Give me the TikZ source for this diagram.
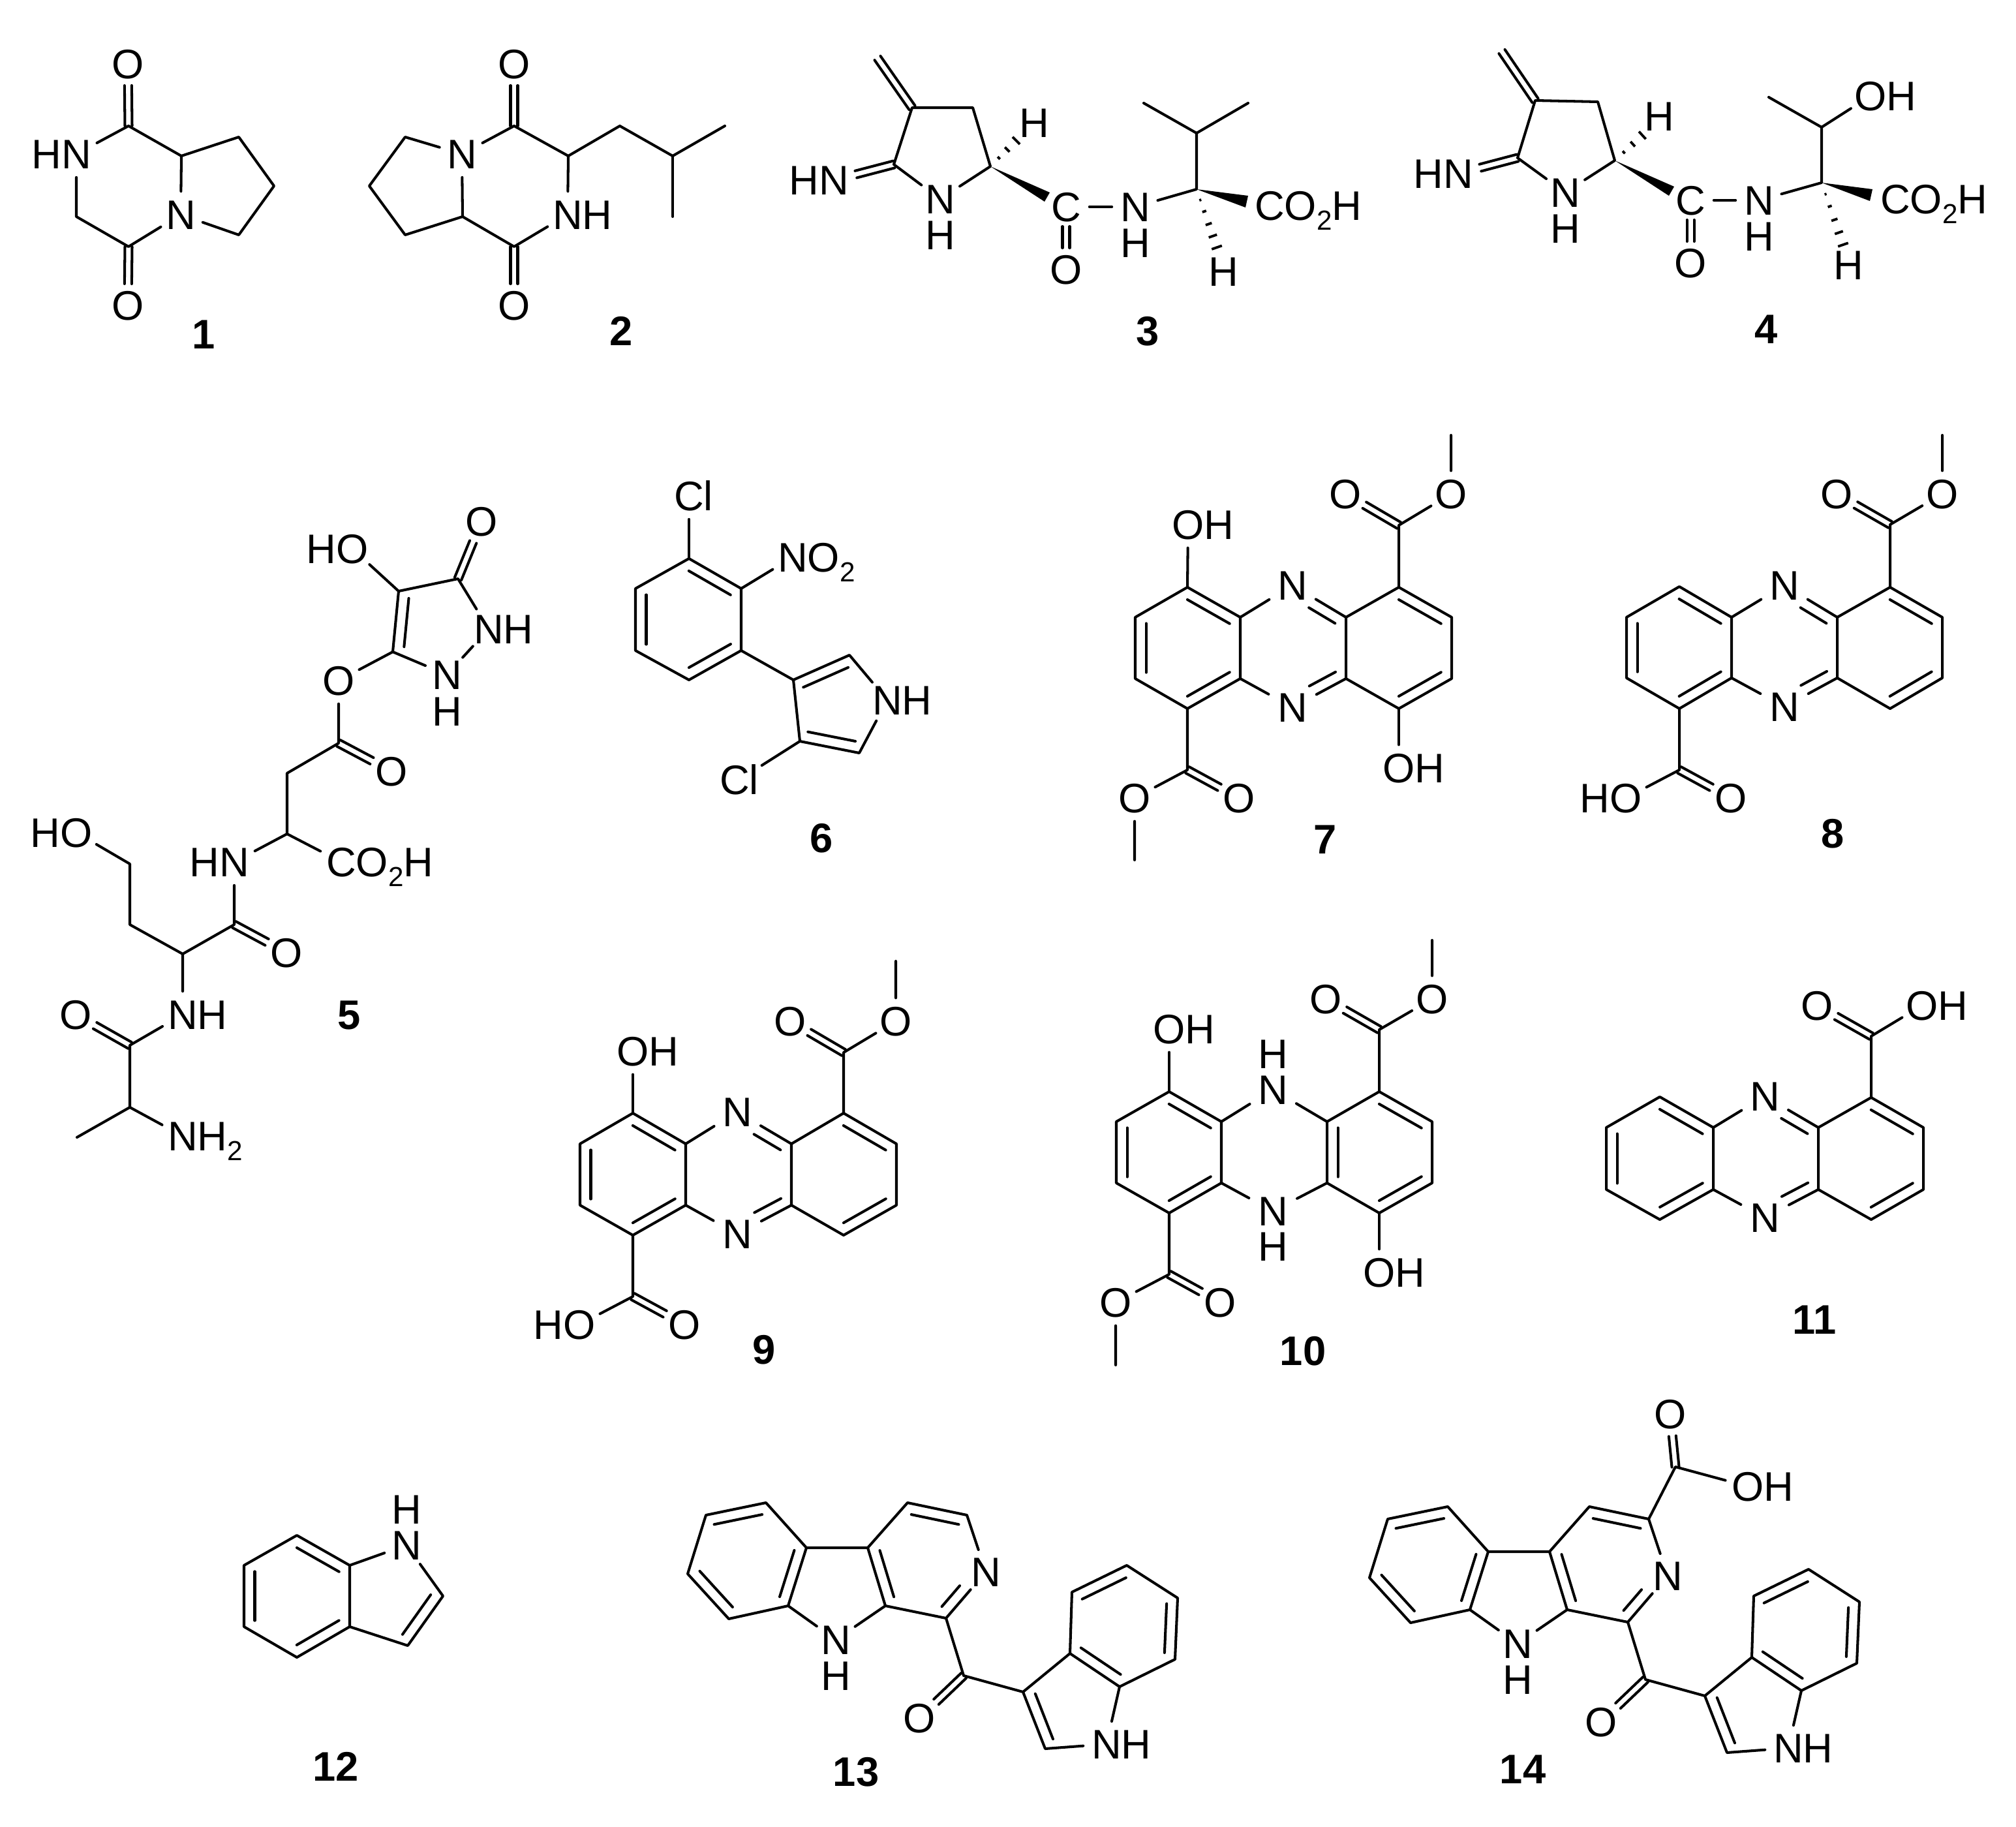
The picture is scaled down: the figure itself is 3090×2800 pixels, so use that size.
\documentclass[tikz,border=0pt]{standalone}
\usepackage{fontspec}
\setmainfont{Liberation Sans}
\usetikzlibrary{calc}
\tikzset{
  bond/.style={line width=1.15pt,line cap=round,line join=round,black},
  hashline/.style={line width=1.1pt,black},
  atom/.style={circle,inner sep=.6pt,text height=12.9pt,text depth=0pt,font=\fontsize{18}{20}\selectfont,text=black},
  atomn/.style={atom,inner sep=1.8pt},
  atomo/.style={atom,inner sep=.3pt},
  cmpd/.style={inner sep=0pt,font=\fontsize{18}{20}\selectfont\bfseries,text=black}
}
\newcommand{\subtwo}{\raisebox{-4.2pt}{\fontsize{12}{14}\selectfont 2}}
\newcommand{\pts}[1]{\foreach \pa/\pb/\pc in {#1}{\coordinate (\pa) at (\pb,\pc);}}
\newcommand{\inrf}[4]{\draw[bond] ($(#1)!#3!(#2)!.165cm!-90:(#2)$) -- ($(#2)!#4!(#1)!.165cm!90:(#1)$);}
\newcommand{\inr}[2]{\inrf{#1}{#2}{.1}{.1}}
\newcommand{\dbx}[4]{%
  \draw[bond] ($(#1)!#3!(#2)!.055cm!90:(#2)$) -- ($(#2)!#4!(#1)!.055cm!-90:(#1)$);
  \draw[bond] ($(#1)!#3!(#2)!.055cm!-90:(#2)$) -- ($(#2)!#4!(#1)!.055cm!90:(#1)$);}
\newcommand{\hashb}[3]{\foreach \ha in {#3}{%
  \pgfmathsetmacro\hw{\ha*0.085}
  \draw[hashline] ($(#1)!\ha!(#2)!\hw cm!90:(#2)$) -- ($(#1)!\ha!(#2)!\hw cm!-90:(#2)$);}}
\newcommand{\phrings}[1]{%
  \draw[bond] (#1a)--(#1f)--(#1e)--(#1d)--(#1c)--(#1b)--cycle;
  \draw[bond] (#1f)--(#1nt)--(#1g)--(#1h)--(#1nb)--(#1e);
  \draw[bond] (#1g)--(#1i)--(#1j)--(#1k)--(#1l)--(#1h);
  \inr{#1a}{#1f}\inr{#1e}{#1d}\inr{#1c}{#1b}\inr{#1i}{#1j}\inr{#1k}{#1l}}
\begin{document}
\begin{tikzpicture}[x=.01cm,y=-.01cm]
\useasboundingbox[fill=white] (0,0) rectangle (3090,2800);

%% 1
\node[atomo] (m1o) at (196,98) {O};
\node[atom] (m1na) at (117,236) {\llap{H}N};
\node[atom] (m1nb) at (277,329) {N};
\node[atomo] (m1p) at (196,468) {O};
\pts{m1c/197/193,m1j/278/239,m1h/117/332,m1k/197/378,m1r/366/210,m1s/420/285,m1t/366/360}
\draw[bond] (m1na)--(m1c)--(m1j)--(m1nb)--(m1k)--(m1h)--(m1na);
\draw[bond] (m1j)--(m1r)--(m1s)--(m1t)--(m1nb);
\dbx{m1c}{m1o}{0cm}{.33cm}\dbx{m1k}{m1p}{0cm}{.33cm}
\node[cmpd] (lab1) at (312,513) {1};

%% 2
\node[atomo] (m2o) at (788,98) {O};
\node[atom] (m2na) at (708,236) {N};
\node[atom] (m2nb) at (870,329) {N\rlap{H}};
\node[atomo] (m2p) at (788,468) {O};
\pts{m2c/788/193,m2j/871/239,m2h/709/332,m2k/788/378,m2r/621/210,m2s/566/285,m2t/621/360,m2u/950/193,m2v/1031/239,m2w/1111/193,m2x/1031/332}
\draw[bond] (m2na)--(m2c)--(m2j)--(m2nb)--(m2k)--(m2h)--(m2na);
\draw[bond] (m2na)--(m2r)--(m2s)--(m2t)--(m2h);
\draw[bond] (m2j)--(m2u)--(m2v)--(m2w);
\draw[bond] (m2v)--(m2x);
\dbx{m2c}{m2o}{0cm}{.33cm}\dbx{m2k}{m2p}{0cm}{.33cm}
\node[cmpd] (lab2) at (952,507) {2};

%% 3
\node[atom] (m3hn) at (1278,276) {\llap{H}N};
\node[atom] (m3n) at (1441,305) {N};
\node[atom] (m3nh) at (1441,360) {H};
\node[atom] (m3h) at (1585,188) {H};
\node[atom] (m3cl) at (1634,317) {C};
\node[atomo] (m3o) at (1634,413) {O};
\node[atom] (m3nb) at (1740,317) {N};
\node[atom] (m3nbh) at (1740,372) {H};
\node[atom] (m3co) at (1946,315) {C\rlap{O\subtwo H}};
\node[atom] (m3hb) at (1875,416) {H};
\pts{m3a/1398/165,m3b/1491/165,m3c/1518/255,m3d/1370/252,m3e/1345/89,m3f/1834/290,m3g/1834/204,m3i/1753/158,m3j/1913/158,m3k/1609/295,m3l/1601/309,m3m/1913/300,m3p/1909/318,m3q/1561/212,m3r/1866/382}
\draw[bond] (m3d)--(m3a)--(m3b)--(m3c)--(m3n)--(m3d);
\dbx{m3a}{m3e}{0cm}{0cm}\dbx{m3d}{m3hn}{0cm}{.35cm}
\fill (m3c)--(m3k)--(m3l)--cycle;
\fill (m3f)--(m3m)--(m3p)--cycle;
\hashb{m3c}{m3q}{.3,.6,.92}
\hashb{m3f}{m3r}{.18,.37,.58,.78,.97}
\draw[bond] (m3cl)--(m3nb);
\draw[bond] (m3nb)--(m3f)--(m3g)--(m3i);
\draw[bond] (m3g)--(m3j);
\dbx{m3cl}{m3o}{.3cm}{.33cm}
\node[cmpd] (lab3) at (1759,508) {3};

%% 4
\node[atom] (m4hn) at (2235,266) {\llap{H}N};
\node[atom] (m4n) at (2399,295) {N};
\node[atom] (m4nh) at (2399,350) {H};
\node[atom] (m4h) at (2543,178) {H};
\node[atom] (m4cl) at (2591,307) {C};
\node[atomo] (m4o) at (2591,403) {O};
\node[atom] (m4nb) at (2696,307) {N};
\node[atom] (m4nbh) at (2696,362) {H};
\node[atom] (m4co) at (2905,305) {C\rlap{O\subtwo H}};
\node[atom] (m4hb) at (2833,406) {H};
\node[atomo] (m4oh) at (2867,147) {O\rlap{H}};
\pts{m4a/2353/154,m4b/2449/156,m4c/2475/246,m4d/2326/242,m4e/2302/79,m4f/2792/280,m4g/2792/195,m4i/2711/149,m4k/2566/286,m4l/2558/300,m4m/2870/290,m4p/2866/308,m4q/2521/204,m4r/2826/378}
\draw[bond] (m4d)--(m4a)--(m4b)--(m4c)--(m4n)--(m4d);
\dbx{m4a}{m4e}{0cm}{0cm}\dbx{m4d}{m4hn}{0cm}{.35cm}
\fill (m4c)--(m4k)--(m4l)--cycle;
\fill (m4f)--(m4m)--(m4p)--cycle;
\hashb{m4c}{m4q}{.3,.6,.92}
\hashb{m4f}{m4r}{.18,.37,.58,.78,.97}
\draw[bond] (m4cl)--(m4nb);
\draw[bond] (m4nb)--(m4f)--(m4g)--(m4i);
\draw[bond] (m4g)--(m4oh);
\dbx{m4cl}{m4o}{.3cm}{.33cm}
\node[cmpd] (lab4) at (2707,505) {4};

%% 5
\node[atomo] (m5oa) at (738,799) {O};
\node[atomo] (m5ho) at (540,841) {\llap{H}O};
\node[atom] (m5na) at (749,964) {N\rlap{H}};
\node[atom] (m5nb) at (685,1034) {N};
\node[atom] (m5nbh) at (685,1090) {H};
\node[atomo] (m5ob) at (519,1043) {O};
\node[atomo] (m5oc) at (600,1182) {O};
\node[atom] (m5nc) at (359,1321) {\llap{H}N};
\node[atom] (m5co) at (523,1321) {C\rlap{O\subtwo H}};
\node[atomo] (m5od) at (439,1460) {O};
\node[atomo] (m5hq) at (117,1276) {\llap{H}O};
\node[atom] (m5nd) at (280,1555) {N\rlap{H}};
\node[atomo] (m5oe) at (116,1555) {O};
\node[atom] (m5ne) at (280,1741) {N\rlap{H\subtwo}};
\pts{m5a/702/887,m5b/611/906,m5c/602/999,m5d/519/1139,m5e/440/1185,m5f/440/1278,m5g/359/1417,m5h/280/1462,m5i/199/1417,m5j/199/1324,m5k/199/1602,m5l/199/1697,m5m/118/1743}
\draw[bond] (m5b)--(m5a)--(m5na)--(m5nb)--(m5c)--(m5b);
\inr{m5c}{m5b}
\dbx{m5a}{m5oa}{0cm}{.34cm}
\draw[bond] (m5ho)--(m5b);
\draw[bond] (m5c)--(m5ob)--(m5d)--(m5e)--(m5f)--(m5nc)--(m5g)--(m5h)--(m5i)--(m5j)--(m5hq);
\dbx{m5d}{m5oc}{0cm}{.34cm}
\draw[bond] (m5f)--(m5co);
\dbx{m5g}{m5od}{0cm}{.34cm}
\draw[bond] (m5h)--(m5nd)--(m5k)--(m5l)--(m5m);
\dbx{m5k}{m5oe}{0cm}{.34cm}
\draw[bond] (m5l)--(m5ne);
\node[cmpd] (lab5) at (535,1556) {5};

%% 6
\node[atom] (m6cla) at (1056,760) {C\rlap{l}};
\node[atom] (m6no) at (1215,854) {N\rlap{O\subtwo}};
\node[atom] (m6nh) at (1360,1073) {N\rlap{H}};
\node[atom] (m6clb) at (1133,1195) {Cl};
\pts{m6a/1056/856,m6b/1136/902,m6c/1136/997,m6d/1056/1042,m6e/974/997,m6f/974/902,m6g/1216/1042,m6h/1302/1004,m6i/1317/1154,m6j/1226/1136}
\draw[bond] (m6a)--(m6b)--(m6c)--(m6d)--(m6e)--(m6f)--cycle;
\inr{m6a}{m6b}\inr{m6c}{m6d}\inr{m6e}{m6f}
\draw[bond] (m6a)--(m6cla);
\draw[bond] (m6b)--(m6no);
\draw[bond] (m6c)--(m6g)--(m6h)--(m6nh)--(m6i)--(m6j)--(m6g);
\inr{m6g}{m6h}\inr{m6i}{m6j}
\draw[bond] (m6j)--(m6clb);
\node[cmpd] (lab6) at (1259,1285) {6};

%% 7
\node[atomn] (m7nt) at (1981,897) {N};
\node[atomn] (m7nb) at (1981,1084) {N};
\node[atomo] (m7oh) at (1821,804) {O\rlap{H}};
\node[atomo] (m7oa) at (2062,757) {O};
\node[atomo] (m7ob) at (2224,757) {O};
\node[atomo] (m7pp) at (2144,1177) {O\rlap{H}};
\node[atomo] (m7oc) at (1739,1223) {O};
\node[atomo] (m7od) at (1899,1223) {O};
\pts{m7a/1820/900,m7b/1740/946,m7c/1740/1040,m7d/1820/1086,m7e/1901/1040,m7f/1901/946,m7g/2063/946,m7h/2063/1040,m7i/2144/900,m7j/2225/946,m7k/2225/1040,m7l/2144/1086,m7m/2144/805,m7n/2224/667,m7q/1820/1180,m7r/1739/1318}
\phrings{m7}
\inrf{m7nt}{m7g}{.41}{.1}\inrf{m7h}{m7nb}{.1}{.41}
\draw[bond] (m7a)--(m7oh);
\draw[bond] (m7i)--(m7m)--(m7ob)--(m7n);
\dbx{m7m}{m7oa}{0cm}{.34cm}
\draw[bond] (m7l)--(m7pp);
\draw[bond] (m7d)--(m7q)--(m7oc)--(m7r);
\dbx{m7q}{m7od}{0cm}{.34cm}
\node[cmpd] (lab7) at (2031,1287) {7};

%% 8
\node[atomn] (m8nt) at (2735,897) {N};
\node[atomn] (m8nb) at (2735,1083) {N};
\node[atomo] (m8oa) at (2815,757) {O};
\node[atomo] (m8ob) at (2977,757) {O};
\node[atomo] (m8oc) at (2492,1223) {\llap{H}O};
\node[atomo] (m8od) at (2653,1223) {O};
\pts{m8a/2574/899,m8b/2493/946,m8c/2493/1039,m8d/2574/1086,m8e/2654/1039,m8f/2654/946,m8g/2816/946,m8h/2816/1039,m8i/2897/900,m8j/2977/946,m8k/2977/1039,m8l/2897/1086,m8m/2897/804,m8n/2977/667,m8q/2574/1180}
\phrings{m8}
\inrf{m8nt}{m8g}{.41}{.1}\inrf{m8h}{m8nb}{.1}{.41}
\draw[bond] (m8i)--(m8m)--(m8ob)--(m8n);
\dbx{m8m}{m8oa}{0cm}{.34cm}
\draw[bond] (m8d)--(m8q)--(m8oc);
\dbx{m8q}{m8od}{0cm}{.34cm}
\node[cmpd] (lab8) at (2809,1278) {8};

%% 9
\node[atomn] (m9nt) at (1130,1704) {N};
\node[atomn] (m9nb) at (1130,1891) {N};
\node[atomo] (m9oh) at (970,1611) {O\rlap{H}};
\node[atomo] (m9oa) at (1211,1565) {O};
\node[atomo] (m9ob) at (1373,1565) {O};
\node[atomo] (m9oc) at (888,2030) {\llap{H}O};
\node[atomo] (m9od) at (1049,2030) {O};
\pts{m9a/970/1706,m9b/889/1753,m9c/889/1847,m9d/970/1893,m9e/1051/1847,m9f/1051/1753,m9g/1213/1753,m9h/1213/1847,m9i/1293/1706,m9j/1374/1753,m9k/1374/1847,m9l/1293/1893,m9m/1293/1613,m9n/1373/1473,m9q/970/1987}
\phrings{m9}
\inrf{m9nt}{m9g}{.41}{.1}\inrf{m9h}{m9nb}{.1}{.41}
\draw[bond] (m9a)--(m9oh);
\draw[bond] (m9i)--(m9m)--(m9ob)--(m9n);
\dbx{m9m}{m9oa}{0cm}{.34cm}
\draw[bond] (m9d)--(m9q)--(m9oc);
\dbx{m9q}{m9od}{0cm}{.34cm}
\node[cmpd] (lab9) at (1171,2069) {9};

%% 10
\node[atomn] (m10nt) at (1951,1670) {N};
\node[atom] (m10ht) at (1951,1615) {H};
\node[atomn] (m10nb) at (1951,1856) {N};
\node[atom] (m10hb) at (1951,1910) {H};
\node[atomo] (m10oh) at (1792,1577) {O\rlap{H}};
\node[atomo] (m10oa) at (2032,1531) {O};
\node[atomo] (m10ob) at (2195,1531) {O};
\node[atomo] (m10pp) at (2114,1950) {O\rlap{H}};
\node[atomo] (m10oc) at (1710,1996) {O};
\node[atomo] (m10od) at (1870,1996) {O};
\pts{m10a/1792/1673,m10b/1711/1719,m10c/1711/1813,m10d/1792/1859,m10e/1872/1813,m10f/1872/1719,m10g/2034/1719,m10h/2034/1813,m10i/2114/1673,m10j/2195/1719,m10k/2195/1813,m10l/2114/1859,m10m/2114/1578,m10n/2195/1441,m10q/1792/1953,m10r/1710/2092}
\phrings{m10}
\inr{m10h}{m10g}
\draw[bond] (m10a)--(m10oh);
\draw[bond] (m10i)--(m10m)--(m10ob)--(m10n);
\dbx{m10m}{m10oa}{0cm}{.34cm}
\draw[bond] (m10l)--(m10pp);
\draw[bond] (m10d)--(m10q)--(m10oc)--(m10r);
\dbx{m10q}{m10od}{0cm}{.34cm}
\node[cmpd] (lab10) at (1997,2071) {10};

%% 11
\node[atomn] (m11nt) at (2705,1680) {N};
\node[atomn] (m11nb) at (2705,1866) {N};
\node[atomo] (m11oa) at (2785,1541) {O};
\node[atomo] (m11ob) at (2946,1541) {O\rlap{H}};
\pts{m11a/2544/1681,m11b/2462/1728,m11c/2462/1823,m11d/2544/1869,m11e/2626/1823,m11f/2626/1728,m11g/2787/1728,m11h/2787/1823,m11i/2868/1682,m11j/2948/1728,m11k/2948/1823,m11l/2868/1869,m11m/2868/1588}
\phrings{m11}
\inrf{m11nt}{m11g}{.41}{.1}\inrf{m11h}{m11nb}{.1}{.41}
\draw[bond] (m11i)--(m11m)--(m11ob);
\dbx{m11m}{m11oa}{0cm}{.34cm}
\node[cmpd] (lab11) at (2781,2023) {11};

%% 12
\node[atom] (m12n) at (623,2368) {N};
\node[atom] (m12h) at (623,2313) {H};
\pts{m12a/455/2353,m12b/374/2399,m12c/374/2493,m12d/455/2540,m12e/536/2493,m12f/536/2399,m12g/679/2446,m12i/625/2522}
\draw[bond] (m12a)--(m12f)--(m12e)--(m12d)--(m12c)--(m12b)--cycle;
\inr{m12a}{m12f}\inr{m12e}{m12d}\inr{m12c}{m12b}
\draw[bond] (m12f)--(m12n)--(m12g)--(m12i)--(m12e);
\inr{m12g}{m12i}
\node[cmpd] (lab12) at (515,2707) {12};

%% 13
\node[atom] (m13n) at (1281,2513) {N};
\node[atom] (m13h) at (1281,2568) {H};
\node[atom] (m13p) at (1511,2409) {N};
\node[atomo] (m13o) at (1409,2633) {O};
\node[atom] (m13q) at (1696,2673) {N\rlap{H}};
\pts{m13a/1174/2303,m13b/1082/2322,m13c/1054/2412,m13d/1117/2481,m13e/1208/2461,m13f/1236/2372,m13g/1330/2372,m13i/1357/2461,m13j/1391/2303,m13k/1482/2322,m13l/1450/2480,m13m/1477/2568,m13r/1568/2593,m13s/1640/2534,m13t/1716/2585,m13u/1602/2680,m13v/1643/2440,m13w/1727/2399,m13x/1805/2449,m13y/1801/2543}
\draw[bond] (m13a)--(m13f)--(m13e)--(m13d)--(m13c)--(m13b)--cycle;
\inr{m13b}{m13a}\inr{m13f}{m13e}\inr{m13d}{m13c}
\draw[bond] (m13f)--(m13g)--(m13i)--(m13n)--(m13e);
\draw[bond] (m13g)--(m13j)--(m13k)--(m13p)--(m13l)--(m13i);
\inr{m13i}{m13g}\inr{m13j}{m13k}\inrf{m13p}{m13l}{.45}{.1}
\draw[bond] (m13l)--(m13m)--(m13r)--(m13s)--(m13t)--(m13q)--(m13u)--(m13r);
\dbx{m13m}{m13o}{0cm}{.36cm}
\inr{m13u}{m13r}
\draw[bond] (m13s)--(m13v)--(m13w)--(m13x)--(m13y)--(m13t);
\inr{m13v}{m13w}\inr{m13x}{m13y}\inr{m13t}{m13s}
\node[cmpd] (lab13) at (1312,2716) {13};

%% 14
\node[atom] (m14n) at (2326,2519) {N};
\node[atom] (m14h) at (2326,2574) {H};
\node[atom] (m14p) at (2556,2415) {N};
\node[atomo] (m14o) at (2454,2639) {O};
\node[atom] (m14q) at (2741,2679) {N\rlap{H}};
\node[atomo] (m14oa) at (2560,2167) {O};
\node[atomo] (m14ob) at (2679,2278) {O\rlap{H}};
\pts{m14a/2219/2309,m14b/2127/2328,m14c/2099/2418,m14d/2162/2487,m14e/2253/2467,m14f/2281/2378,m14g/2375/2378,m14i/2402/2467,m14j/2436/2309,m14k/2527/2328,m14l/2495/2486,m14m/2522/2574,m14r/2613/2599,m14s/2685/2540,m14t/2761/2591,m14u/2647/2686,m14v/2688/2446,m14w/2772/2405,m14x/2850/2455,m14y/2846/2549,m14z/2568/2248}
\draw[bond] (m14a)--(m14f)--(m14e)--(m14d)--(m14c)--(m14b)--cycle;
\inr{m14b}{m14a}\inr{m14f}{m14e}\inr{m14d}{m14c}
\draw[bond] (m14f)--(m14g)--(m14i)--(m14n)--(m14e);
\draw[bond] (m14g)--(m14j)--(m14k)--(m14p)--(m14l)--(m14i);
\inr{m14i}{m14g}\inr{m14j}{m14k}\inrf{m14p}{m14l}{.45}{.1}
\draw[bond] (m14l)--(m14m)--(m14r)--(m14s)--(m14t)--(m14q)--(m14u)--(m14r);
\dbx{m14m}{m14o}{0cm}{.36cm}
\inr{m14u}{m14r}
\draw[bond] (m14s)--(m14v)--(m14w)--(m14x)--(m14y)--(m14t);
\inr{m14v}{m14w}\inr{m14x}{m14y}\inr{m14t}{m14s}
\draw[bond] (m14k)--(m14z)--(m14ob);
\dbx{m14z}{m14oa}{0cm}{.34cm}
\node[cmpd] (lab14) at (2334,2712) {14};
\end{tikzpicture}
\end{document}
